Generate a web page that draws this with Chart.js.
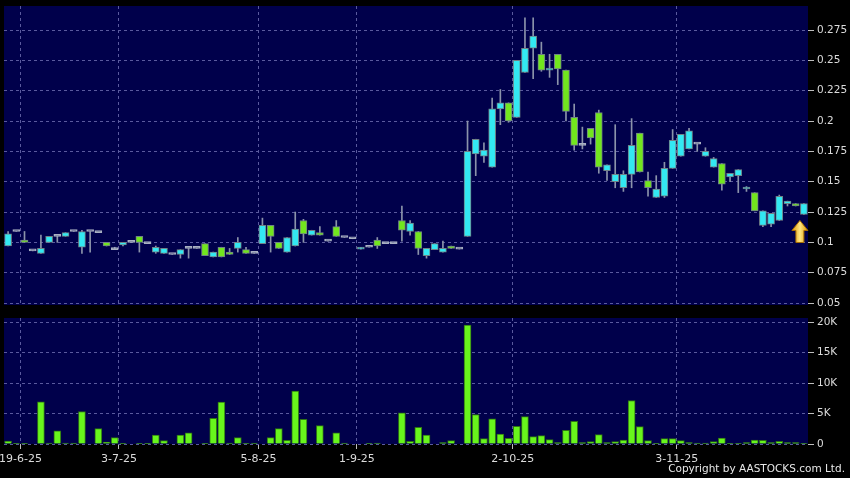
<!DOCTYPE html>
<html lang="en">
<head>
  <meta charset="UTF-8">
  <title>Daily chart</title>
  <script src="https://cdn.jsdelivr.net/npm/chart.js"></script>
  <style>
    html, body { margin: 0; padding: 0; background: #000; }
    #wrap { position: relative; width: 850px; height: 478px; overflow: hidden; background: #000; }
    #priceChart { position: absolute; left: 0; top: 0; }
    #volChart { position: absolute; left: 0; top: 312px; }
    #copy {
      position: absolute; right: 5px; top: 462px;
      font: 10.5px "DejaVu Sans", sans-serif; color: #e8e8e8; white-space: nowrap;
    }
  </style>
</head>
<body>
<div id="wrap">
  <canvas id="priceChart" width="850" height="312"></canvas>
  <canvas id="volChart" width="850" height="166"></canvas>
  <div id="copy">Copyright by AASTOCKS.com Ltd.</div>
</div>

<script>
// daily candles, oldest first
const open = [
  0.097, 0.109, 0.102, 0.093, 0.091, 0.100, 0.105, 0.105, 0.109, 0.096,
  0.109, 0.108, 0.100, 0.094, 0.098, 0.100, 0.105, 0.099, 0.092, 0.091,
  0.090, 0.090, 0.095, 0.095, 0.099, 0.088, 0.096, 0.092, 0.095, 0.094,
  0.091, 0.099, 0.114, 0.100, 0.092, 0.097, 0.118, 0.106, 0.108, 0.101,
  0.113, 0.104, 0.103, 0.0945, 0.096, 0.102, 0.099, 0.099, 0.118, 0.109,
  0.109, 0.089, 0.094, 0.092, 0.097, 0.0945, 0.105, 0.173, 0.171, 0.162,
  0.210, 0.215, 0.203, 0.240, 0.260, 0.255, 0.242, 0.255, 0.242, 0.203,
  0.180, 0.194, 0.207, 0.159, 0.150, 0.145, 0.156, 0.190, 0.151, 0.137,
  0.138, 0.161, 0.171, 0.177, 0.181, 0.171, 0.162, 0.165, 0.154, 0.155,
  0.144, 0.141, 0.114, 0.115, 0.118, 0.132, 0.132, 0.123
];
const high = [
  0.109, 0.109, 0.109, 0.093, 0.106, 0.105, 0.105, 0.108, 0.109, 0.110,
  0.109, 0.108, 0.100, 0.096, 0.100, 0.100, 0.105, 0.099, 0.097, 0.095,
  0.090, 0.094, 0.095, 0.095, 0.099, 0.092, 0.096, 0.095, 0.104, 0.096,
  0.091, 0.120, 0.114, 0.100, 0.104, 0.125, 0.119, 0.110, 0.113, 0.101,
  0.118, 0.104, 0.103, 0.096, 0.096, 0.104, 0.099, 0.099, 0.130, 0.118,
  0.109, 0.095, 0.099, 0.101, 0.097, 0.0945, 0.200, 0.185, 0.182, 0.219,
  0.226, 0.215, 0.250, 0.285, 0.285, 0.265, 0.255, 0.255, 0.242, 0.214,
  0.195, 0.194, 0.209, 0.164, 0.197, 0.159, 0.202, 0.190, 0.158, 0.155,
  0.166, 0.193, 0.189, 0.194, 0.181, 0.178, 0.170, 0.165, 0.157, 0.160,
  0.146, 0.141, 0.126, 0.124, 0.139, 0.134, 0.132, 0.132
];
const low = [
  0.097, 0.109, 0.100, 0.093, 0.091, 0.100, 0.100, 0.105, 0.109, 0.091,
  0.092, 0.108, 0.097, 0.094, 0.097, 0.100, 0.092, 0.099, 0.091, 0.091,
  0.090, 0.087, 0.087, 0.095, 0.089, 0.088, 0.088, 0.090, 0.092, 0.091,
  0.091, 0.099, 0.092, 0.095, 0.092, 0.097, 0.100, 0.106, 0.106, 0.101,
  0.105, 0.104, 0.103, 0.0945, 0.096, 0.095, 0.099, 0.099, 0.101, 0.106,
  0.090, 0.087, 0.094, 0.092, 0.095, 0.0945, 0.105, 0.155, 0.166, 0.162,
  0.197, 0.199, 0.203, 0.240, 0.235, 0.241, 0.236, 0.230, 0.200, 0.176,
  0.177, 0.181, 0.157, 0.151, 0.145, 0.142, 0.145, 0.158, 0.138, 0.137,
  0.137, 0.161, 0.171, 0.177, 0.175, 0.171, 0.162, 0.143, 0.150, 0.141,
  0.142, 0.126, 0.113, 0.113, 0.118, 0.130, 0.130, 0.123
];
const close = [
  0.107, 0.109, 0.100, 0.093, 0.095, 0.105, 0.105, 0.108, 0.109, 0.109,
  0.109, 0.108, 0.097, 0.094, 0.100, 0.100, 0.100, 0.099, 0.096, 0.095,
  0.090, 0.094, 0.095, 0.095, 0.089, 0.092, 0.088, 0.090, 0.100, 0.091,
  0.091, 0.114, 0.105, 0.095, 0.104, 0.111, 0.107, 0.110, 0.106, 0.101,
  0.105, 0.104, 0.103, 0.096, 0.096, 0.097, 0.099, 0.099, 0.110, 0.116,
  0.095, 0.095, 0.099, 0.095, 0.095, 0.0945, 0.175, 0.185, 0.176, 0.210,
  0.215, 0.200, 0.250, 0.260, 0.270, 0.242, 0.243, 0.243, 0.208, 0.180,
  0.180, 0.186, 0.162, 0.164, 0.156, 0.156, 0.180, 0.158, 0.145, 0.144,
  0.161, 0.184, 0.189, 0.192, 0.181, 0.175, 0.169, 0.148, 0.157, 0.160,
  0.145, 0.126, 0.126, 0.124, 0.138, 0.134, 0.130, 0.132
];
const volume = [
  495, 110, 110, 0, 6930, 165, 2145, 165, 165, 5335,
  0, 2530, 330, 1045, 50, 0, 55, 55, 1485, 550,
  0, 1485, 1815, 0, 55, 4235, 6875, 165, 1045, 110,
  165, 0, 1045, 2530, 605, 8690, 4070, 0, 3025, 0,
  1815, 165, 0, 0, 110, 165, 0, 0, 5115, 440,
  2750, 1485, 0, 220, 550, 0, 19525, 4840, 880, 4125,
  1650, 935, 2915, 4510, 1210, 1375, 715, 220, 2255, 3740,
  220, 385, 1540, 220, 385, 660, 7150, 2860, 550, 55,
  880, 880, 550, 220, 165, 165, 385, 990, 55, 30,
  220, 660, 605, 220, 440, 220, 220, 50
];

// date labels and the candle they sit on
const dateIdx = [2, 14, 31, 43, 62, 82];
const dateText = ['19-6-25', '3-7-25', '5-8-25', '1-9-25', '2-10-25', '3-11-25'];

const priceTicks = [0.05, 0.075, 0.1, 0.125, 0.15, 0.175, 0.2, 0.225, 0.25, 0.275];
const volTicks = [0, 5000, 10000, 15000, 20000];

const NAVY = '#00004b';
const GRID = '#5a5a9e';
const TXT = '#dcdcdc';
const UP = '#33e8f2';
const DOWN = '#72e61e';
const FLAT = '#a9b0c2';

const labels = open.map((_, i) => {
  const k = dateIdx.indexOf(i);
  return k >= 0 ? dateText[k] : '';
});

const navyBg = {
  id: 'navyBg',
  beforeDraw(chart) {
    const a = chart.chartArea;
    const c = chart.ctx;
    c.save();
    c.fillStyle = NAVY;
    c.fillRect(a.left, a.top, a.right - a.left, a.bottom - a.top);
    c.restore();
  }
};

// yellow marker under the latest candle
const lastArrow = {
  id: 'lastArrow',
  afterDatasetsDraw(chart) {
    const last = open.length - 1;
    const cx = chart.scales.x.getPixelForValue(last) - 4;
    const top = chart.scales.y.getPixelForValue(low[last]) + 6;
    const c = chart.ctx;
    c.save();
    const g = c.createLinearGradient(cx - 8, 0, cx + 8, 0);
    g.addColorStop(0, '#d99400');
    g.addColorStop(0.5, '#ffe680');
    g.addColorStop(1, '#d99400');
    c.beginPath();
    c.moveTo(cx, top);
    c.lineTo(cx + 8, top + 10);
    c.lineTo(cx + 4, top + 10);
    c.lineTo(cx + 4, top + 22);
    c.lineTo(cx - 4, top + 22);
    c.lineTo(cx - 4, top + 10);
    c.lineTo(cx - 8, top + 10);
    c.closePath();
    c.fillStyle = g;
    c.fill();
    c.strokeStyle = '#a86d00';
    c.lineWidth = 1;
    c.stroke();
    c.restore();
  }
};

const xGridColor = (ctx) => dateIdx.includes(ctx.index) ? GRID : 'transparent';

// keep the plot box fixed: no extra room for half-labels
const noPad = (s) => { s.paddingTop = 0; s.paddingBottom = 0; s.paddingLeft = 0; s.paddingRight = 0; };

new Chart(document.getElementById('priceChart'), {
  type: 'bar',
  data: {
    labels: labels,
    datasets: [
      {
        data: open.map((o, i) => [o, close[i]]),
        backgroundColor: (ctx) => {
          const i = ctx.dataIndex;
          if (close[i] > open[i]) return UP;
          if (close[i] < open[i]) return DOWN;
          return FLAT;
        },
        borderColor: (ctx) => close[ctx.dataIndex] === open[ctx.dataIndex] ? FLAT : '#6f8186',
        borderWidth: 1,
        borderSkipped: false,
        barThickness: 7,
        minBarLength: 2,
        grouped: false,
        order: 0
      },
      {
        data: low.map((l, i) => [l, high[i]]),
        backgroundColor: '#8b93aa',
        borderWidth: 0,
        barThickness: 1,
        grouped: false,
        order: 1
      }
    ]
  },
  options: {
    responsive: false,
    animation: false,
    layout: { padding: { top: 6, left: 4, right: 0, bottom: 7 } },
    plugins: { legend: { display: false }, tooltip: { enabled: false } },
    scales: {
      x: {
        offset: true,
        grid: { offset: true, color: xGridColor, drawTicks: false },
        border: { display: false, dash: [3, 3] },
        ticks: { display: false, autoSkip: false },
        afterFit: (s) => { s.height = 0; noPad(s); }
      },
      y: {
        position: 'right',
        min: 0.0484,
        max: 0.2948,
        afterBuildTicks: (s) => { s.ticks = priceTicks.map(v => ({ value: v })); },
        grid: { color: GRID, tickLength: 6, tickColor: '#bdbdbd' },
        border: { display: false, dash: [3, 3] },
        ticks: {
          color: TXT,
          padding: 3,
          font: { family: 'DejaVu Sans', size: 10.5 },
          callback: (v) => String(v)
        },
        afterFit: (s) => { s.width = 42; noPad(s); }
      }
    }
  },
  plugins: [navyBg, lastArrow]
});

new Chart(document.getElementById('volChart'), {
  type: 'bar',
  data: {
    labels: labels,
    datasets: [{
      data: volume,
      backgroundColor: '#68f51c',
      borderColor: '#2f7414',
      borderWidth: 1,
      barThickness: 7
    }]
  },
  options: {
    responsive: false,
    animation: false,
    layout: { padding: { top: 6, left: 4, right: 0, bottom: 12 } },
    plugins: { legend: { display: false }, tooltip: { enabled: false } },
    scales: {
      x: {
        offset: true,
        grid: { offset: true, color: xGridColor, tickLength: 5, tickColor: (ctx) => dateIdx.includes(ctx.index) ? '#bdbdbd' : 'transparent' },
        border: { display: false, dash: [3, 3] },
        ticks: {
          autoSkip: false,
          maxRotation: 0,
          color: TXT,
          padding: 4,
          labelOffset: -4,
          font: { family: 'DejaVu Sans', size: 11 },
          callback: (v, i) => labels[i]
        },
        afterFit: (s) => { s.height = 22; noPad(s); }
      },
      y: {
        position: 'right',
        min: 0,
        max: 20700,
        afterBuildTicks: (s) => { s.ticks = volTicks.map(v => ({ value: v })); },
        grid: { color: GRID, tickLength: 6, tickColor: '#bdbdbd' },
        border: { display: false, dash: [3, 3] },
        ticks: {
          color: TXT,
          padding: 3,
          font: { family: 'DejaVu Sans', size: 10.5 },
          callback: (v) => v === 0 ? '0' : (v / 1000) + 'K'
        },
        afterFit: (s) => { s.width = 42; noPad(s); }
      }
    }
  },
  plugins: [navyBg]
});
</script>
</body>
</html>
